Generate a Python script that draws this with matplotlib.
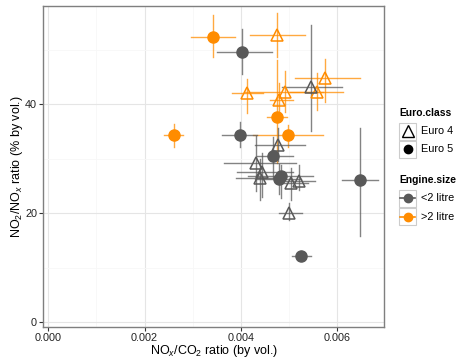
import matplotlib
matplotlib.use("Agg")
import matplotlib.pyplot as plt
from matplotlib.lines import Line2D
from matplotlib.patches import Rectangle

plt.rcParams['font.family'] = ['Liberation Sans', 'DejaVu Sans']
plt.rcParams['mathtext.fontset'] = 'custom'
plt.rcParams['mathtext.rm'] = 'Liberation Sans'
plt.rcParams['mathtext.it'] = 'Liberation Sans:italic'

# vehicle groups: NOx/CO2 ratio, NO2/NOx ratio and interval ends
engine = [">2", ">2", ">2", ">2", ">2", ">2", ">2", ">2", ">2", ">2",
          "<2", "<2", "<2", "<2", "<2", "<2", "<2", "<2", "<2", "<2",
          "<2", "<2", "<2", "<2", "<2"]
euro = ["Euro 5", "Euro 4", "Euro 4", "Euro 4", "Euro 4", "Euro 4", "Euro 4", "Euro 5", "Euro 5", "Euro 5",
        "Euro 5", "Euro 5", "Euro 4", "Euro 4", "Euro 5", "Euro 4", "Euro 4", "Euro 4", "Euro 5", "Euro 5",
        "Euro 4", "Euro 4", "Euro 4", "Euro 5", "Euro 5"]
nox_co2 = [0.00341, 0.00474, 0.00412, 0.00492, 0.00480, 0.00575, 0.00557, 0.00260, 0.00474, 0.00497,
           0.00403, 0.00397, 0.00545, 0.00477, 0.00467, 0.00431, 0.00444, 0.00440, 0.00483, 0.00478,
           0.00504, 0.00521, 0.00500, 0.00525, 0.00647]
nox_lo = [0.00297, 0.00419, 0.00381, 0.00409, 0.00460, 0.00512, 0.00502, 0.00240, 0.00454, 0.00425,
          0.00350, 0.00361, 0.00485, 0.00429, 0.00433, 0.00365, 0.00391, 0.00390, 0.00415, 0.00430,
          0.00485, 0.00492, 0.00478, 0.00506, 0.00610]
nox_hi = [0.00388, 0.00533, 0.00445, 0.00571, 0.00508, 0.00647, 0.00612, 0.00280, 0.00495, 0.00570,
          0.00465, 0.00433, 0.00609, 0.00533, 0.00509, 0.00514, 0.00509, 0.00490, 0.00550, 0.00525,
          0.00540, 0.00554, 0.00526, 0.00545, 0.00685]
no2_nox = [52.4, 52.7, 42.0, 42.3, 40.8, 44.8, 42.3, 34.4, 37.7, 34.4,
           49.5, 34.4, 43.2, 32.6, 30.5, 29.3, 27.6, 26.5, 26.8, 26.2,
           25.6, 26.0, 20.0, 12.2, 26.1]
no2_lo = [48.7, 48.6, 38.4, 38.6, 37.8, 40.4, 38.9, 32.2, 29.3, 32.2,
          45.6, 32.2, 35.0, 29.6, 26.5, 24.0, 23.0, 22.5, 22.8, 23.5,
          22.4, 24.3, 18.8, 11.4, 15.8]
no2_hi = [56.4, 56.8, 44.6, 46.0, 43.8, 48.3, 45.7, 36.4, 48.1, 36.2,
          53.8, 36.8, 54.6, 35.6, 34.0, 34.1, 31.1, 30.0, 28.9, 29.0,
          28.3, 28.8, 21.9, 13.1, 35.6]

colors = {"<2": "#595959", ">2": "#FF8C00"}

W, H = 459, 358
fig = plt.figure(figsize=(W / 100, H / 100), dpi=100)
ax = fig.add_axes([0.0943, 0.0874, 0.7423, 0.8958])

for i in range(len(nox_co2)):
    c = colors[engine[i]]
    ax.plot([nox_lo[i], nox_hi[i]], [no2_nox[i], no2_nox[i]], color=c, lw=1.0, alpha=0.75, zorder=2)
    ax.plot([nox_co2[i], nox_co2[i]], [no2_lo[i], no2_hi[i]], color=c, lw=1.0, alpha=0.75, zorder=2)

for i in range(len(nox_co2)):
    c = colors[engine[i]]
    if euro[i] == "Euro 4":
        ax.plot(nox_co2[i], no2_nox[i], marker="^", ms=9, mfc="none", mec=c, mew=1.1, zorder=3)
    else:
        ax.plot(nox_co2[i], no2_nox[i], marker="o", ms=8, mfc=c, mec=c, zorder=3)

ax.set_xlim(-0.000104, 0.00697)
ax.set_ylim(-0.8, 58.0)
ax.set_xticks([0, 0.002, 0.004, 0.006])
ax.set_xticklabels(["0.000", "0.002", "0.004", "0.006"])
ax.set_yticks([0, 20, 40])
ax.set_xticks([0.001, 0.003, 0.005], minor=True)
ax.set_yticks([10, 30, 50], minor=True)
ax.grid(True, which="major", color="#E5E5E5", lw=0.8)
ax.grid(True, which="minor", color="#F7F7F7", lw=0.6)
ax.set_axisbelow(True)
ax.tick_params(which="minor", length=0)
ax.tick_params(which="major", length=3, width=0.8, color="#333333", labelsize=7.8, labelcolor="#222222", pad=1.5)
for s in ax.spines.values():
    s.set_color("#7F7F7F")
    s.set_linewidth(1.0)

ax.set_xlabel(r"NO$_x$/CO$_2$ ratio (by vol.)", fontsize=9, labelpad=0)
ax.set_ylabel(r"NO$_2$/NO$_x$ ratio (% by vol.)", fontsize=9, labelpad=0)


# ggplot-style legend keys, placed in figure pixels (from top-left)
def fx(px):
    return px / W


def fy(py):
    return 1 - py / H


def legend_title(py, text):
    fig.text(fx(399), fy(py), text, fontsize=7.4, fontweight="bold", va="center", ha="left")


def legend_key(py, text, **style):
    fig.add_artist(Rectangle((fx(399), fy(py + 8.5)), 17 / W, 17 / H, transform=fig.transFigure,
                             facecolor="white", edgecolor="#CCCCCC", lw=0.8))
    if style.pop("line", False):
        fig.add_artist(Line2D([fx(400), fx(415)], [fy(py), fy(py)], transform=fig.transFigure,
                              color=style["mec"], lw=1.2))
    fig.add_artist(Line2D([fx(407.5)], [fy(py)], transform=fig.transFigure, ls="none", **style))
    fig.text(fx(421), fy(py), text, fontsize=7.8, va="center", ha="left")


legend_title(113, "Euro.class")
legend_key(131, "Euro 4", marker="^", ms=9, mfc="none", mec="black", mew=1.0)
legend_key(149.5, "Euro 5", marker="o", ms=6, mfc="black", mec="black")
legend_title(180, "Engine.size")
legend_key(198, "<2 litre", marker="o", ms=6, mfc="#595959", mec="#595959", line=True)
legend_key(216.5, ">2 litre", marker="o", ms=6, mfc="#FF8C00", mec="#FF8C00", line=True)

fig.savefig("out.png", dpi=100)
